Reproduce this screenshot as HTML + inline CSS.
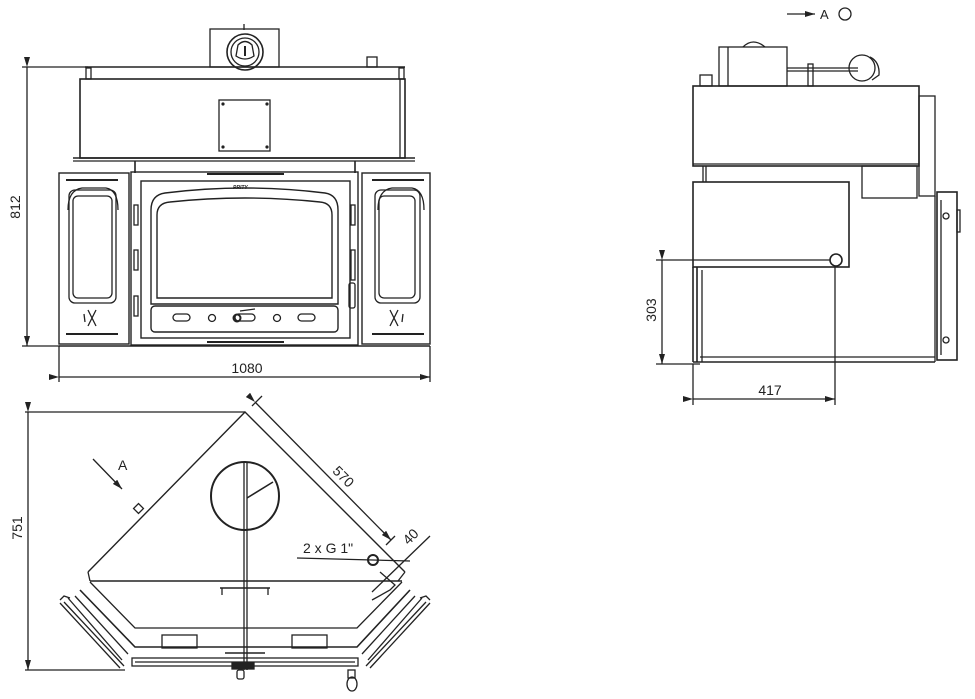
<!DOCTYPE html>
<html><head><meta charset="utf-8"><style>
html,body{margin:0;padding:0;background:#fff;}
svg{display:block;}
text{font-family:"Liberation Sans",sans-serif;fill:#222;}
</style></head><body>
<svg width="975" height="699" viewBox="0 0 975 699" xmlns="http://www.w3.org/2000/svg">
<defs>
<marker id="ar" markerWidth="10" markerHeight="6" refX="10" refY="3" orient="auto" markerUnits="userSpaceOnUse"><path d="M0,0 L10,3 L0,6 z" fill="#222"/></marker>
</defs>
<g fill="none" stroke="#222" stroke-width="1.3">
<line x1="22" y1="67" x2="88" y2="67"/>
<line x1="22" y1="346" x2="60" y2="346"/>
<line x1="27" y1="67" x2="27" y2="346" marker-start="url(#ar)" marker-end="url(#ar)"/>
<rect x="210" y="29" width="69" height="38"/>
<line x1="244" y1="24" x2="244" y2="30"/>
<circle cx="245" cy="52" r="18" stroke-width="1.6"/>
<circle cx="245" cy="52" r="14"/>
<path d="M238,45 Q245,38 252,45 L254,56 Q245,62 236,56 Z"/>
<line x1="245" y1="46" x2="245" y2="56" stroke-width="2"/>
<line x1="85" y1="67" x2="405" y2="67" stroke-width="1.6"/>
<rect x="86" y="68" width="5" height="11"/>
<rect x="399" y="68" width="5" height="11"/>
<rect x="367" y="57" width="10" height="10"/>
<rect x="80" y="79" width="325" height="79" stroke-width="1.6"/>
<line x1="400" y1="79" x2="400" y2="158"/>
<line x1="73" y1="158" x2="415" y2="158" stroke-width="1.6"/>
<line x1="73" y1="161" x2="415" y2="161"/>
<rect x="219" y="100" width="51" height="51"/>
<g fill="#222" stroke="none"><circle cx="223" cy="104" r="1.6"/><circle cx="267" cy="104" r="1.6"/><circle cx="223" cy="147" r="1.6"/><circle cx="267" cy="147" r="1.6"/></g>
<line x1="135" y1="161" x2="135" y2="173" stroke-width="1.6"/>
<line x1="355" y1="161" x2="355" y2="173" stroke-width="1.6"/>
<rect x="59" y="173" width="70" height="171" stroke-width="1.4"/>
<line x1="66" y1="180" x2="118" y2="180" stroke-width="2"/>
<path d="M68,210 Q68,190 82,188 L106,188 Q118,190 118,210"/>
<rect x="73" y="196" width="39" height="102" rx="5"/>
<rect x="69" y="190" width="47" height="113" rx="6"/>
<line x1="66" y1="334" x2="118" y2="334" stroke-width="2"/>
<path d="M88,310 L96,326 M96,310 L88,326 M84,314 L85,322"/>
<rect x="362" y="173" width="68" height="171" stroke-width="1.4"/>
<line x1="372" y1="180" x2="424" y2="180" stroke-width="2"/>
<path d="M378,210 Q378,190 392,188 L412,188 Q424,190 424,210"/>
<rect x="379" y="196" width="36" height="102" rx="5"/>
<rect x="375" y="190" width="45" height="113" rx="6"/>
<line x1="372" y1="334" x2="424" y2="334" stroke-width="2"/>
<path d="M390,310 L398,326 M398,310 L390,326 M403,314 L402,322"/>
<rect x="131" y="172" width="227" height="173" stroke-width="1.4"/>
<rect x="141" y="181" width="209" height="157" stroke-width="1.4"/>
<line x1="207" y1="174" x2="284" y2="174" stroke-width="2"/>
<line x1="207" y1="342" x2="284" y2="342" stroke-width="2"/>
<path d="M151,210 Q151,195 165,193 Q245,183 325,193 Q338,195 338,210 L338,304 L151,304 Z" stroke-width="1.4"/>
<path d="M157,215 Q157,203 170,202 Q245,194 320,202 Q332,203 332,215 L332,298 L157,298 Z" stroke-width="1.4"/>
<rect x="151" y="306" width="187" height="26" rx="4" stroke-width="1.4"/>
<rect x="173" y="314" width="17" height="7" rx="3.5"/>
<rect x="298" y="314" width="17" height="7" rx="3.5"/>
<circle cx="212" cy="318" r="3.5"/><circle cx="277" cy="318" r="3.5"/>
<rect x="235" y="314" width="20" height="7" rx="3.5"/>
<circle cx="237" cy="318" r="3.5" stroke-width="2"/>
<line x1="240" y1="311" x2="255" y2="309"/>
<rect x="134" y="205" width="4" height="20"/><rect x="134" y="250" width="4" height="20"/><rect x="134" y="296" width="4" height="20"/>
<rect x="351" y="205" width="4" height="20"/><rect x="351" y="250" width="4" height="30"/>
<rect x="349" y="283" width="6" height="25" rx="2"/>
<text x="233" y="189" font-size="5" font-weight="bold" stroke="none" font-style="italic">PRITY</text>
<line x1="59" y1="346" x2="430" y2="346" stroke-width="1.6"/>
<line x1="59" y1="346" x2="59" y2="382"/>
<line x1="430" y1="346" x2="430" y2="382"/>
<line x1="59" y1="377" x2="430" y2="377" marker-start="url(#ar)" marker-end="url(#ar)"/>

<line x1="787" y1="14" x2="815" y2="14" marker-end="url(#ar)"/>
<circle cx="845" cy="14" r="6"/>
<rect x="719" y="47" width="68" height="39"/>
<line x1="728" y1="47" x2="728" y2="86"/>
<path d="M743,47 Q753,37 765,47"/>
<rect x="700" y="75" width="12" height="11"/>
<line x1="787" y1="68" x2="858" y2="68"/><line x1="787" y1="71" x2="858" y2="71"/>
<rect x="808" y="64" width="5" height="22"/>
<circle cx="862" cy="68" r="13"/>
<path d="M870,57 Q880,62 879,75 L872,80"/>
<rect x="693" y="86" width="226" height="80" stroke-width="1.6"/>
<line x1="693" y1="164" x2="919" y2="164"/>
<rect x="919" y="96" width="16" height="100"/>
<rect x="862" y="166" width="55" height="32"/>
<line x1="703" y1="166" x2="703" y2="182"/><line x1="706" y1="166" x2="706" y2="182"/>
<rect x="693" y="182" width="156" height="85" stroke-width="1.6"/>
<circle cx="836" cy="260" r="6" stroke-width="1.6"/>
<line x1="693" y1="267" x2="693" y2="362" stroke-width="1.6"/>
<line x1="697" y1="267" x2="697" y2="362" stroke-width="1.6"/>
<line x1="702" y1="270" x2="702" y2="362"/>
<line x1="693" y1="362" x2="935" y2="362" stroke-width="1.6"/>
<line x1="700" y1="357" x2="935" y2="357"/>
<line x1="935" y1="196" x2="935" y2="362"/>
<rect x="937" y="192" width="20" height="168" stroke-width="1.6"/>
<line x1="941" y1="200" x2="941" y2="355"/>
<circle cx="946" cy="216" r="3"/><circle cx="946" cy="340" r="3"/>
<rect x="957" y="210" width="3" height="22"/>
<line x1="656" y1="260" x2="830" y2="260"/>
<line x1="656" y1="364" x2="700" y2="364"/>
<line x1="662" y1="260" x2="662" y2="364" marker-start="url(#ar)" marker-end="url(#ar)"/>
<line x1="693" y1="364" x2="693" y2="405"/>
<line x1="835" y1="266" x2="835" y2="405"/>
<line x1="693" y1="399" x2="835" y2="399" marker-start="url(#ar)" marker-end="url(#ar)"/>

<line x1="25" y1="412" x2="245" y2="412"/>
<line x1="25" y1="670" x2="125" y2="670"/>
<line x1="28" y1="412" x2="28" y2="670" marker-start="url(#ar)" marker-end="url(#ar)"/>
<polyline points="88,572 245,412 405,572" stroke-width="1.4"/>
<line x1="90" y1="581" x2="402" y2="581" stroke-width="1.6"/>
<line x1="88" y1="572" x2="90" y2="581"/>
<line x1="405" y1="572" x2="398" y2="581"/>
<rect x="135" y="505" width="7" height="7" transform="rotate(-45 138.5 508.5)"/>
<circle cx="245" cy="496" r="34" stroke-width="2"/>
<line x1="244" y1="463" x2="244" y2="670"/><line x1="247" y1="463" x2="247" y2="670"/>
<line x1="247" y1="498" x2="273" y2="482" stroke-width="1.6"/>
<line x1="93" y1="459" x2="122" y2="489" marker-end="url(#ar)"/>
<line x1="252" y1="406" x2="262" y2="396"/>
<line x1="255" y1="402" x2="391" y2="540" marker-start="url(#ar)" marker-end="url(#ar)"/>
<line x1="386" y1="545" x2="395" y2="536"/>
<line x1="372" y1="592" x2="430" y2="536"/>
<line x1="297" y1="558" x2="410" y2="561"/>
<circle cx="373" cy="560" r="5" stroke-width="2"/>
<polyline points="380,572 395,585 390,590 372,600"/>
<line x1="220" y1="588" x2="270" y2="588" stroke-width="1.6"/>
<line x1="222" y1="588" x2="222" y2="595"/><line x1="268" y1="588" x2="268" y2="595"/>
<polyline points="90,582 135,628 357,628 402,582"/>
<polyline points="80,590 135,647 357,647 410,590" stroke-width="1.6"/>
<polyline points="75,596 128,654"/><polyline points="415,596 362,654"/>
<polyline points="68,598 122,660"/><polyline points="422,598 368,660"/>
<polyline points="60,600 64,596 70,598"/><polyline points="430,600 426,596 420,598"/>
<line x1="60" y1="603" x2="120" y2="668"/><line x1="64" y1="602" x2="124" y2="666"/>
<line x1="430" y1="603" x2="370" y2="668"/><line x1="426" y1="602" x2="366" y2="666"/>
<rect x="162" y="635" width="35" height="13"/>
<rect x="292" y="635" width="35" height="13"/>
<rect x="132" y="658" width="226" height="8"/>
<line x1="135" y1="662" x2="355" y2="662"/>
<line x1="225" y1="653" x2="265" y2="653" stroke-width="1.6"/>
<rect x="232" y="663" width="22" height="6" fill="#222"/>
<rect x="237" y="670" width="7" height="9" rx="2"/>
<ellipse cx="352" cy="684" rx="5" ry="7"/>
<rect x="348" y="670" width="7" height="8"/>
</g>
<g stroke="none">
<text x="20" y="207" font-size="14" transform="rotate(-90 20 207)" text-anchor="middle">812</text>
<text x="247" y="373" font-size="14" text-anchor="middle">1080</text>
<text x="820" y="19" font-size="13">A</text>
<text x="656" y="310" font-size="14" transform="rotate(-90 656 310)" text-anchor="middle">303</text>
<text x="770" y="395" font-size="14" text-anchor="middle">417</text>
<text x="22" y="528" font-size="14" transform="rotate(-90 22 528)" text-anchor="middle">751</text>
<text x="118" y="470" font-size="14">A</text>
<text x="340" y="480" font-size="14" transform="rotate(45 340 480)" text-anchor="middle">570</text>
<text x="414" y="540" font-size="14" transform="rotate(-45 414 540)" text-anchor="middle">40</text>
<text x="303" y="553" font-size="14">2 x G 1"</text>
</g>
</svg>
</body></html>
